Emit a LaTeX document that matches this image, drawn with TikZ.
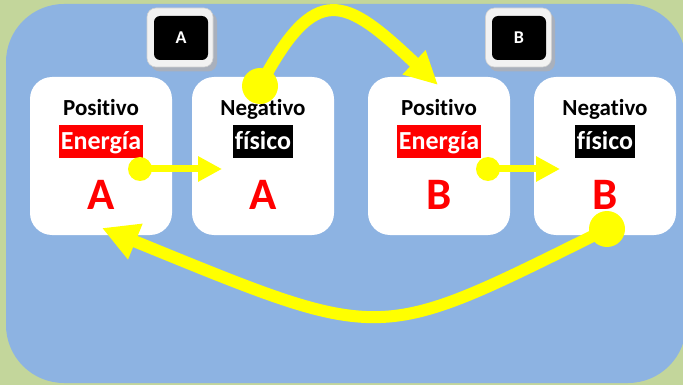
\documentclass[tikz,border=0pt]{standalone}
\usepackage{fontspec}
\setmainfont{Carlito}[Ligatures=NoCommon]
\usetikzlibrary{arrows.meta}
\definecolor{bggreen}{HTML}{C3D69B}
\definecolor{bgblue}{HTML}{8DB3E2}
\definecolor{yel}{HTML}{FFFF00}
\definecolor{rd}{HTML}{FF0000}
\definecolor{framegray}{HTML}{F2F2F2}
\definecolor{frameline}{HTML}{D0D0D0}
\definecolor{shadowgray}{HTML}{A9B0BC}
\begin{document}
\begin{tikzpicture}[x=1pt,y=-1pt,
  card/.style={fill=white, rounded corners=22pt, minimum width=142pt, minimum height=158pt, inner sep=0pt},
  head/.style={anchor=base, font=\bfseries\fontsize{23}{24}\selectfont, text=black, inner sep=0pt},
  lab/.style={anchor=base, font=\bfseries\fontsize{26}{27}\selectfont, text=white, inner xsep=1.5pt, inner ysep=0pt, text height=24.5pt, text depth=8.7pt},
  big/.style={anchor=base, font=\bfseries\fontsize{45}{46}\selectfont, text=rd, inner sep=0pt},
  tagframe/.style={fill=framegray, draw=frameline, line width=0.6pt, rounded corners=9pt, minimum width=66pt, minimum height=59pt, inner sep=0pt},
  tagshadow/.style={fill=shadowgray, rounded corners=9pt, minimum width=66pt, minimum height=59pt, inner sep=0pt},
  tagbox/.style={fill=black, rounded corners=6pt, minimum width=54pt, minimum height=44pt, inner sep=0pt, text=white, font=\bfseries\fontsize{18}{19}\selectfont},
  dotS/.style={circle, fill=yel, inner sep=0pt, minimum size=24pt},
  dotL/.style={circle, fill=yel, inner sep=0pt, minimum size=36pt},
  thinarrow/.style={draw=yel, line width=7pt, -{Triangle[length=24pt,width=24pt]}},
  thickarrow/.style={draw=yel, line width=12pt}
]
\useasboundingbox (0,0) rectangle (683,385);
\fill[bggreen] (0,0) rectangle (683,385);
\clip (0,0) rectangle (683,385);
\fill[bgblue, rounded corners=58pt] (6,4) rectangle (686,383);

% tags
\node[tagshadow] (sa) at (184,42) {};
\node[tagframe] (fa) at (180,37.5) {};
\node[tagbox] (ta) at (181,38) {A};
\node[tagshadow] (sb) at (522,42) {};
\node[tagframe] (fb) at (518.5,37.5) {};
\node[tagbox] (tb) at (519,38) {B};

% cards
\node[card] (c1) at (101,156) {};
\node[card] (c2) at (263,156) {};
\node[card] (c3) at (439,156) {};
\node[card] (c4) at (605,156) {};

\node[head] (h1) at (101,115.5) {Positivo};
\node[head] (h2) at (263,115.5) {Negativo};
\node[head] (h3) at (439,115.5) {Positivo};
\node[head] (h4) at (605,115.5) {Negativo};

\node[lab, fill=rd] (l1) at (101,149.5) {Energía};
\node[lab, fill=black] (l2) at (263,149.5) {físico};
\node[lab, fill=rd] (l3) at (439,149.5) {Energía};
\node[lab, fill=black] (l4) at (605,149.5) {físico};

\node[big] (b1) at (101,209) {A};
\node[big] (b2) at (263,209) {A};
\node[big] (b3) at (439,209) {B};
\node[big] (b4) at (605,209) {B};

% arrows
\node[dotS] (d1) at (140,169) {};
\coordinate (e1) at (222,169);
\draw[thinarrow] (d1.center) -- (e1);

\node[dotS] (d2) at (488,169) {};
\coordinate (e2) at (560,169);
\draw[thinarrow] (d2.center) -- (e2);

\node[dotL] (d3) at (260,86) {};
\coordinate (e3) at (438,85);
\draw[thickarrow, -{Triangle[length=33pt,width=31pt]}] (d3.center) .. controls (316,-20) and (345,-3) .. (e3);

\node[dotL] (d4) at (607,229) {};
\coordinate (e4) at (102,228);
\draw[thickarrow, -{Triangle[length=36pt,width=36pt]}] (d4.center) .. controls (374,344) and (389,345) .. (e4);
\end{tikzpicture}
\end{document}
